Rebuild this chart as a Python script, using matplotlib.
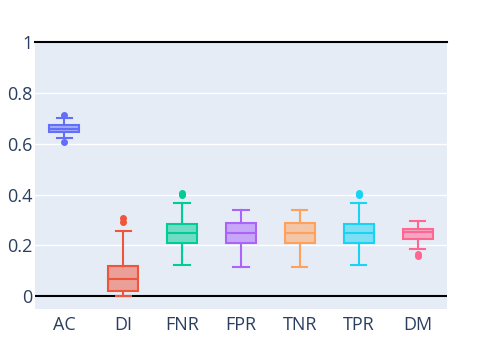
import matplotlib.pyplot as plt

plt.rcParams['font.family'] = ['Open Sans', 'DejaVu Sans']

names = ['AC', 'DI', 'FNR', 'FPR', 'TNR', 'TPR', 'DM']
colors = ['#636efa', '#EF553B', '#00cc96', '#ab63fa', '#FFA15A', '#19d3f3', '#FF6692']
q1 = [0.646, 0.021, 0.211, 0.209, 0.209, 0.211, 0.227]
med = [0.659, 0.068, 0.247, 0.248, 0.248, 0.247, 0.252]
q3 = [0.672, 0.118, 0.283, 0.289, 0.289, 0.283, 0.264]
whislo = [0.622, 0.001, 0.125, 0.114, 0.114, 0.125, 0.185]
whishi = [0.702, 0.255, 0.366, 0.339, 0.339, 0.366, 0.298]
fliers = [[0.713, 0.608], [0.308, 0.291], [0.400, 0.405], [], [], [0.400, 0.405], [0.168, 0.160]]

fig = plt.figure(figsize=(4.82, 3.44), dpi=100)
ax = fig.add_axes([0.0726, 0.1017, 0.8547, 0.7762])
ax.set_facecolor('#E5ECF6')

for i, n in enumerate(names):
    st = [dict(label=n, q1=q1[i], med=med[i], q3=q3[i],
               whislo=whislo[i], whishi=whishi[i], fliers=fliers[i])]
    c = colors[i]
    ax.bxp(st, positions=[i], widths=0.51, capwidths=0.26, patch_artist=True,
           boxprops=dict(facecolor=c + '80', edgecolor=c, linewidth=1.5),
           medianprops=dict(color=c, linewidth=1.5),
           whiskerprops=dict(color=c, linewidth=1.5),
           capprops=dict(color=c, linewidth=1.5),
           flierprops=dict(marker='o', markersize=4, markerfacecolor=c,
                           markeredgecolor=c, linestyle='none'),
           zorder=3)

ax.set_xlim(-0.5, len(names) - 0.5)
ax.set_ylim(-0.05, 1.0)
ax.set_yticks([0, 0.2, 0.4, 0.6, 0.8, 1])
ax.set_yticklabels(['0', '0.2', '0.4', '0.6', '0.8', '1'])
ax.set_xticks(range(len(names)))
ax.set_xticklabels(names)
ax.grid(axis='y', color='white', linewidth=1)
ax.set_axisbelow(True)
ax.axhline(0, color='black', linewidth=1.5, zorder=2)
ax.axhline(1, color='black', linewidth=1.5, zorder=2, clip_on=False)
for s in ax.spines.values():
    s.set_visible(False)
ax.tick_params(length=0, labelsize=13, labelcolor='#2a3f5f')
ax.tick_params(axis='y', pad=2)
ax.tick_params(axis='x', pad=5)

fig.savefig('out.png', dpi=100)
